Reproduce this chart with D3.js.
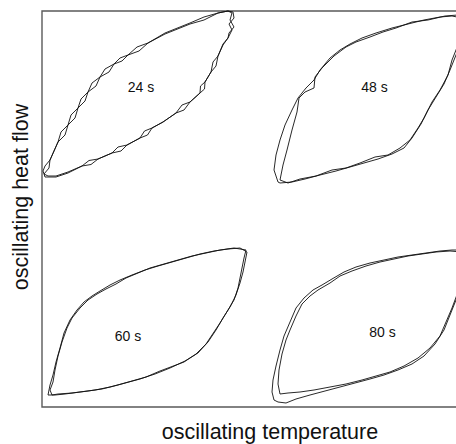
<!DOCTYPE html>
<html>
<head>
<meta charset="utf-8">
<script src="https://cdn.jsdelivr.net/npm/d3@7"></script>
<style>
  html, body { margin: 0; padding: 0; background: #fff; }
  svg { display: block; }
  text { font-family: "Liberation Sans", Arial, sans-serif; fill: #111; }
</style>
</head>
<body>
<svg id="chart" width="456" height="444"></svg>
<script>
// Data in reading units (temperature, heat flow), two recorded cycles per period
const periods = ["24 s", "48 s", "60 s", "80 s"];
const labelPos = [[99, 315], [332.5, 315], [86, 66], [340.5, 70]];

const loop24a = [[2,233],[7,239],[8,247],[16,265],[23,272],[26,282],[33,289],[36,299],[43,306],[46,315],[54,321],[58,330],[67,335],[72,343],[80,346],[86,352],[97,356],[106,364],[123,373],[148,383],[162,387],[176,394],[186,396],[191,395],[192,389],[187,383],[190,377],[186,369],[181,363],[176,351],[174,341],[169,335],[163,325],[162.5,318],[158,314],[148,305],[142,297],[134,294],[121,285],[110,279],[105.5,272],[98,269],[85,262],[79,256],[70,254],[56,248],[49,242.5],[40,241],[26,235],[14,231],[6,231],[2,233]];
const loop24b = [[3,230],[1,236],[3,241],[8,247],[16,265],[19,275],[26,282],[29,292],[36,299],[39,308],[46,315],[50,324],[58,330],[63,338],[72,343],[78,349],[86,352],[95,360],[106,364],[123,374],[148,384],[162,390],[176,394],[186,396],[190,394],[188,387],[192,380],[187,374],[186,369],[181,362],[176,351],[171,345],[169,335],[163,325],[158.5,321],[158,314],[148,305],[140,302],[134,294],[121,285],[110,279],[102.5,276],[98,269],[85,262],[76,260],[70,254],[56,248],[47,246.5],[40,241],[26,234],[14,230],[6,230],[3,230]];

const loop48a = [[236,225],[232,237],[234,252],[238,267],[243,282],[250,297],[256,309],[264,319],[272,327],[278,337],[288,349],[298,357],[308,363],[320,369],[334,374],[350,379],[366,383],[382,387],[398,390],[410,391],[420,389],[422,377],[418,362],[414,352],[408,337],[402,323],[394,310],[386,297],[379,283],[370,269],[362,259],[350,253],[336,248],[322,244],[308,240],[294,236],[278,232],[263,228],[250,225],[238,224],[236,225]];
const loop48b = [[238,227],[241,242],[245,257],[250,277],[255,295],[257,309],[263,315],[272,319],[273,330],[280,339],[292,351],[304,360],[314,365],[328,370],[341,375],[354,379],[370,385],[386,387],[403,391],[416,392],[422,382],[418,367],[410,347],[406,332],[398,317],[390,305],[382,289],[376,279],[368,267],[358,259],[346,252],[333,250],[318,244],[304,239],[290,237],[274,231],[258,228],[246,224],[238,227]];

const loop60a = [[6,12],[8,22],[11,32],[14,45],[18,59],[22,74],[28,87],[35,97],[42,105],[50,111],[58,116],[68,122],[78,127],[90,132],[103,137],[116,141],[130,145],[144,149],[158,153],[172,156],[186,158],[198,159],[205,155],[203,145],[201,135],[198,124],[194,112],[188,100],[181,89],[174,77],[166,65],[156,54],[143,46],[128,39],[113,33],[98,28],[83,24],[68,20],[53,17],[38,15],[23,13],[13,12],[6,12]];
const loop60b = [[8,17],[11,25],[13,37],[16,51],[20,65],[25,79],[30,89],[38,99],[46,107],[55,113],[64,118],[74,123],[84,129],[96,134],[108,139],[122,143],[136,147],[150,151],[164,154],[178,157],[192,159],[204,157],[202,149],[200,139],[198,129],[196,119],[192,107],[186,97],[178,84],[172,75],[164,63],[154,53],[142,45],[126,39],[118,36],[104,30],[90,26],[76,22],[60,18],[46,16],[30,14],[16,13],[10,12],[8,17]];

const loop80a = [[232,7],[230,15],[231,27],[234,41],[238,57],[242,71],[248,85],[254,99],[262,109],[271,117],[280,122],[290,128],[302,135],[314,140],[328,144],[342,147],[356,150],[370,152],[384,154],[398,156],[410,157],[420,157],[422,137],[418,117],[414,107],[408,92],[402,77],[393,63],[382,51],[370,43],[356,37],[342,32],[328,28],[313,24],[298,20],[283,16],[268,12],[254,8],[244,4],[236,5],[232,7]];
const loop80b = [[238,13],[236,23],[237,37],[240,53],[244,67],[248,77],[254,91],[260,103],[268,111],[276,117],[288,124],[298,131],[310,136],[324,141],[338,145],[352,148],[366,151],[380,153],[394,155],[408,156],[420,155],[421,135],[416,115],[410,99],[404,85],[398,71],[388,59],[376,49],[362,41],[348,35],[334,31],[320,27],[304,23],[288,20],[272,17],[258,15],[246,14],[238,13]];

const xTitle = "oscillating temperature";
const yTitle = "oscillating heat flow";

const traces = [loop24a, loop24b, loop48a, loop48b, loop60a, loop60b, loop80a, loop80b];

const svg = d3.select("#chart");
const x = d3.scaleLinear().domain([0, 428]).range([42, 470]);
const y = d3.scaleLinear().domain([0, 396]).range([407, 11]);

// frame (right side runs off the picture)
svg.append("path")
  .attr("d", `M${x(428)},${y(396)}H${x(0)}V${y(0)}H${x(428)}`)
  .attr("fill", "none")
  .attr("stroke", "#5a5a5a")
  .attr("stroke-width", 1.4);

const line = d3.line().x(d => x(d[0])).y(d => y(d[1]));

svg.append("g").selectAll("path")
  .data(traces)
  .join("path")
  .attr("d", line)
  .attr("fill", "none")
  .attr("stroke", "#111")
  .attr("stroke-width", 0.9)
  .attr("stroke-linejoin", "round");

svg.append("g").selectAll("text")
  .data(periods)
  .join("text")
  .attr("x", (d, i) => x(labelPos[i][0]))
  .attr("y", (d, i) => y(labelPos[i][1]))
  .attr("text-anchor", "middle")
  .attr("font-size", 14)
  .text(d => d);

svg.append("text")
  .attr("x", 270)
  .attr("y", 439)
  .attr("text-anchor", "middle")
  .attr("font-size", 21.5)
  .text(xTitle);

svg.append("text")
  .attr("transform", "translate(28,197) rotate(-90)")
  .attr("text-anchor", "middle")
  .attr("font-size", 21.5)
  .text(yTitle);
</script>
</body>
</html>
